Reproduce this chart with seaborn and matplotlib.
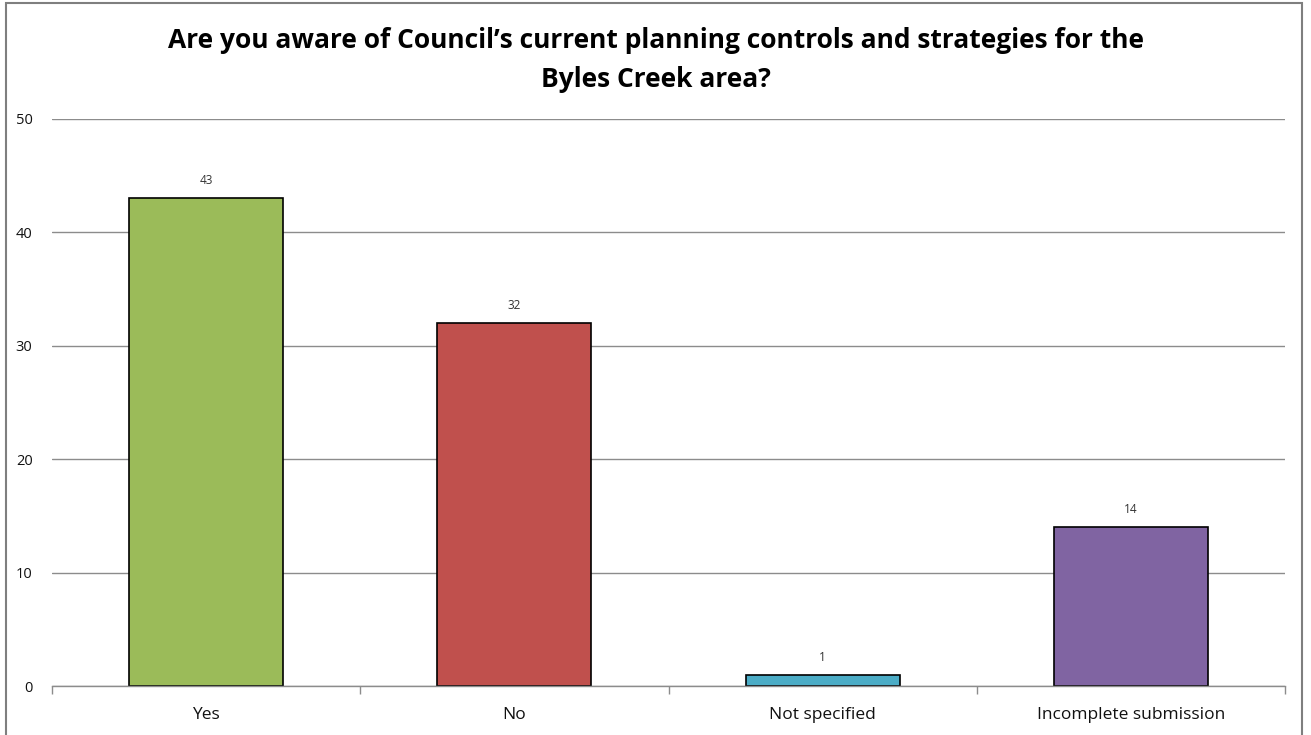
import matplotlib
matplotlib.use("Agg")
import matplotlib.pyplot as plt
import seaborn as sns
import pandas as pd
from matplotlib.patches import Rectangle

categories = ["Yes", "No", "Not specified", "Incomplete submission"]
values = [43, 32, 1, 14]
colors = ["#9BBB59", "#C0504D", "#4BACC6", "#8064A2"]
title = "Are you aware of Council\u2019s current planning controls and strategies for the\nByles Creek area?"
yticks = [0, 10, 20, 30, 40, 50]

sns.set_theme(style="white")
plt.rcParams['font.family'] = ['Open Sans', 'DejaVu Sans']

df = pd.DataFrame({"cat": categories, "val": values})

fig = plt.figure(figsize=(13.11, 7.35), dpi=100)
ax = fig.add_axes([52/1311, 1-686/735, (1285-52)/1311, (686-119)/735])

sns.barplot(data=df, x="cat", y="val", hue="cat", palette=colors, order=categories,
            hue_order=categories, width=0.5, edgecolor="black", linewidth=1.2,
            saturation=1, legend=False, ax=ax, zorder=3)

ax.set_ylim(0, 50)
ax.set_xlim(-0.5, len(categories) - 0.5)
ax.set_yticks(yticks)
ax.set_yticklabels([str(t) for t in yticks], fontsize=10.5, color="#111111")
ax.yaxis.grid(True, color="#8c8c8c", linewidth=1, zorder=0)
ax.set_axisbelow(True)
for s in ["top", "right", "left"]:
    ax.spines[s].set_visible(False)
ax.spines["bottom"].set_color("#8c8c8c")
ax.spines["bottom"].set_linewidth(1)
ax.spines["bottom"].set_zorder(4)

ax.set_xticks(range(len(categories)))
ax.set_xticklabels(categories, fontsize=12.5, color="#111111")
ax.set_xticks([i - 0.5 for i in range(len(categories) + 1)], minor=True)
ax.tick_params(axis="x", which="major", length=0, pad=15)
ax.tick_params(axis="x", which="minor", length=6, color="#8c8c8c", direction="out", bottom=True)
ax.tick_params(axis="y", length=0, pad=14)
ax.set_xlabel("")
ax.set_ylabel("")

for i, v in enumerate(values):
    ax.annotate(str(v), (i, v), xytext=(0, 8), textcoords="offset points",
                ha="center", va="bottom", fontsize=8.5, color="#333333")

fig.text(0.5, 1 - 60/735, title, ha="center", va="center", fontsize=19,
         fontweight="bold", linespacing=1.6, color="black",
         family=["Open Sans", "DejaVu Sans"])

fig.patches.append(Rectangle((6/1311, -0.1), (1302-6)/1311, 1.1 - 3/735,
                             transform=fig.transFigure, fill=False,
                             edgecolor="#7f7f7f", linewidth=1.5))

fig.savefig("out.png", dpi=100)
